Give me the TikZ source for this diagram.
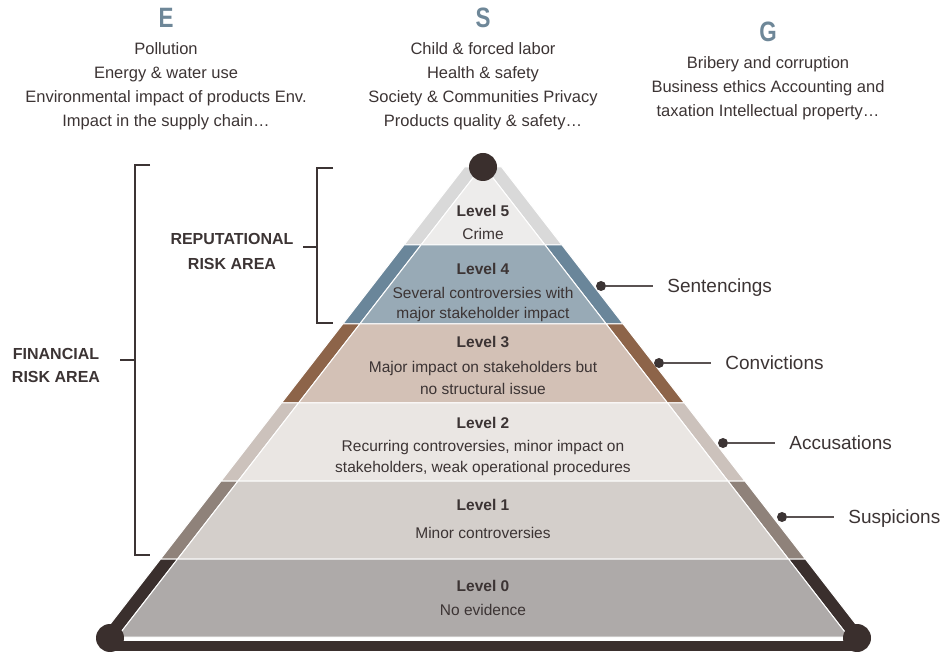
\documentclass[tikz,border=0pt]{standalone}
\usepackage{fontspec}
\setmainfont{Liberation Sans}
\newfontfamily\pillarfont{Liberation Sans}[FakeStretch=0.8]
\usepackage{xcolor}
\usepackage{tikz}
\usetikzlibrary{positioning}

\definecolor{ink}{HTML}{3C3434}
\definecolor{esg}{HTML}{6E8798}
\definecolor{l5c}{HTML}{EDECEB}
\definecolor{l5s}{HTML}{D9D9D9}
\definecolor{l4c}{HTML}{98AAB6}
\definecolor{l4s}{HTML}{6A869A}
\definecolor{l3c}{HTML}{D3C1B6}
\definecolor{l3s}{HTML}{8D6449}
\definecolor{l2c}{HTML}{EAE6E3}
\definecolor{l2s}{HTML}{CCC2BC}
\definecolor{l1c}{HTML}{D4CFCB}
\definecolor{l1s}{HTML}{8F827A}
\definecolor{l0c}{HTML}{AEAAA9}
\definecolor{l0s}{HTML}{3A2F2D}

\begin{document}
\begin{tikzpicture}[
    x=1pt, y=-1pt,
    band/.style={draw=white, line width=1pt},
    pillar/.style={font=\pillarfont\bfseries\fontsize{28}{28}\selectfont, text=esg, inner sep=0pt},
    topic/.style={align=center, text=ink, font=\fontsize{16.5}{24}\selectfont},
    lvl/.style={align=center, text=ink, font=\fontsize{15.5}{21}\selectfont},
    area/.style={align=center, text=ink, font=\bfseries\fontsize{16}{25}\selectfont},
    dot/.style={circle, fill=ink, inner sep=0pt, minimum size=10pt},
    knob/.style={circle, fill=l0s, inner sep=0pt, minimum size=28pt},
    rlbl/.style={text=ink, font=\fontsize{19}{19}\selectfont, inner sep=0pt, text height=13.6pt, text depth=0pt},
    lead/.style={draw=ink!85, line width=1.1pt, shorten >=14pt},
    brk/.style={draw=ink, line width=1.2pt}
]
\useasboundingbox (0,0) rectangle (946,652);

% E S G columns
\node[pillar] (E) at (166,18) {E};
\node[pillar] (S) at (483,18) {S};
\node[pillar] (G) at (768,32) {G};
\node[topic, below=11pt of E] (envT) {Pollution\\Energy \& water use\\Environmental impact of products Env.\\Impact in the supply chain…};
\node[topic, below=11pt of S] (socT) {Child \& forced labor\\Health \& safety\\Society \& Communities Privacy\\Products quality \& safety…};
\node[topic, below=11pt of G] (govT) {Bribery and corruption\\Business ethics Accounting and\\taxation Intellectual property…};

% pyramid bands
\fill[band, fill=l5s] (464.4,167) -- (481.5,167) -- (421,245) -- (404,245) -- cycle;
\fill[band, fill=l5s] (501.6,167) -- (484.5,167) -- (545,245) -- (562,245) -- cycle;
\fill[band, fill=l5c] (483,165) -- (545,245) -- (421,245) -- cycle;

\fill[band, fill=l4s] (404,245) -- (421,245) -- (359.8,324) -- (342.8,324) -- cycle;
\fill[band, fill=l4s] (545,245) -- (562,245) -- (623.2,324) -- (606.2,324) -- cycle;
\fill[band, fill=l4c] (421,245) -- (545,245) -- (606.2,324) -- (359.8,324) -- cycle;

\fill[band, fill=l3s] (342.8,324) -- (359.8,324) -- (298.5,403) -- (281.5,403) -- cycle;
\fill[band, fill=l3s] (606.2,324) -- (623.2,324) -- (684.5,403) -- (667.5,403) -- cycle;
\fill[band, fill=l3c] (359.8,324) -- (606.2,324) -- (667.5,403) -- (298.5,403) -- cycle;

\fill[band, fill=l2s] (281.5,403) -- (298.5,403) -- (238.1,481) -- (221.1,481) -- cycle;
\fill[band, fill=l2s] (667.5,403) -- (684.5,403) -- (744.9,481) -- (727.9,481) -- cycle;
\fill[band, fill=l2c] (298.5,403) -- (667.5,403) -- (727.9,481) -- (238.1,481) -- cycle;

\fill[band, fill=l1s] (221.1,481) -- (238.1,481) -- (177.6,559) -- (160.6,559) -- cycle;
\fill[band, fill=l1s] (727.9,481) -- (744.9,481) -- (805.4,559) -- (788.4,559) -- cycle;
\fill[band, fill=l1c] (238.1,481) -- (727.9,481) -- (788.4,559) -- (177.6,559) -- cycle;

\fill[band, fill=l0s] (160.6,559) -- (177.6,559) -- (117.2,637) -- (100.2,637) -- cycle;
\fill[band, fill=l0s] (788.4,559) -- (805.4,559) -- (865.8,637) -- (848.8,637) -- cycle;
\fill[band, fill=l0c] (177.6,559) -- (788.4,559) -- (848.8,637) -- (117.2,637) -- cycle;
\fill[l0s] (110,640.5) rectangle (857,651);

\node[knob] (top) at (483,167) {};
\node[knob] (baseL) at (110,638) {};
\node[knob] (baseR) at (857,638) {};

% level texts
\node[lvl] (lv5) at (483,222.5) {\textbf{Level 5}\\[2pt]Crime};
\node[lvl] (lv4) at (483,292) {\textbf{Level 4}\\[3pt]Several controversies with\\[-1pt]major stakeholder impact};
\node[lvl] (lv3) at (483,365.5) {\textbf{Level 3}\\[4pt]Major impact on stakeholders but\\[1pt]no structural issue};
\node[lvl] (lv2) at (483,446) {\textbf{Level 2}\\[2pt]Recurring controversies, minor impact on\\stakeholders, weak operational procedures};
\node[lvl] (lv1) at (483,519) {\textbf{Level 1}\\[7pt]Minor controversies};
\node[lvl] (lv0) at (483,598) {\textbf{Level 0}\\[3pt]No evidence};

% risk areas
\node[area] (rep) at (232,251.5) {REPUTATIONAL\\RISK AREA};
\draw[brk] (333,168) -- (317,168) -- (317,323) -- (333,323);
\draw[brk] (303,247) -- (317,247);
\node[area, font=\bfseries\fontsize{16}{23}\selectfont] (fin) at (56,365) {FINANCIAL\\RISK AREA};
\draw[brk] (150,165) -- (135,165) -- (135,555) -- (150,555);
\draw[brk] (120,360) -- (135,360);

% outcomes
\node[dot] (dSen) at (601,286) {};
\node[dot] (dCon) at (659,363) {};
\node[dot] (dAcc) at (723,443) {};
\node[dot] (dSus) at (782,517) {};
\node[rlbl, right=61pt of dSen] (sen) {Sentencings};
\node[rlbl, right=61pt of dCon] (con) {Convictions};
\node[rlbl, right=61pt of dAcc] (acc) {Accusations};
\node[rlbl, right=61pt of dSus] (sus) {Suspicions};
\draw[lead] (dSen) -- (sen);
\draw[lead] (dCon) -- (con);
\draw[lead] (dAcc) -- (acc);
\draw[lead] (dSus) -- (sus);

\end{tikzpicture}
\end{document}
